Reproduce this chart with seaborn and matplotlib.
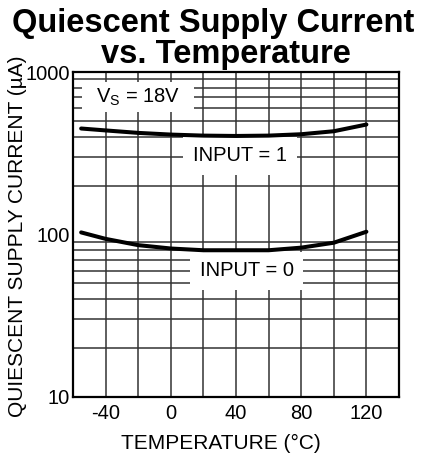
import matplotlib
matplotlib.use("Agg")
import matplotlib.pyplot as plt
import seaborn as sns
import pandas as pd
from matplotlib.patches import Rectangle

temperature = [-55, -40, -20, 0, 20, 40, 60, 80, 100, 120]
input1_current = [449, 437, 422, 412, 406, 404, 406, 414, 432, 475]
input0_current = [103, 94, 86, 82, 80, 80, 80, 83, 89, 104]
x_ticks = [-40, 0, 40, 80, 120]
y_ticks = [10, 100, 1000]

df = pd.concat([
    pd.DataFrame({"temp": temperature, "current": input1_current, "input": "1"}),
    pd.DataFrame({"temp": temperature, "current": input0_current, "input": "0"}),
])

sns.set_style("white")
plt.rcParams["font.family"] = ["Liberation Sans", "DejaVu Sans"]
plt.rcParams["mathtext.fontset"] = "custom"
plt.rcParams["mathtext.rm"] = "Liberation Sans"
plt.rcParams["text.color"] = "black"
plt.rcParams["axes.labelcolor"] = "black"

FS = 14.5
LFS = 15

fig = plt.figure(figsize=(4.25, 4.55), dpi=100)
ax = fig.add_axes([73 / 425, 58 / 455, 326 / 425, 325 / 455])

sns.lineplot(data=df, x="temp", y="current", hue="input", palette=["black", "black"],
             linewidth=2.9, legend=False, ax=ax, zorder=5)

ax.set_yscale("log")
ax.set_xlim(-60, 140)
ax.set_ylim(10, 1000)

# grid
for xv in range(-40, 140, 20):
    ax.axvline(xv, color="#333333", lw=1.1, zorder=1)
for dec in [10, 100]:
    for m in range(2, 10):
        ax.axhline(dec * m, color="#333333", lw=1.1, zorder=1)

ax.set_xticks(x_ticks)
ax.set_xticklabels([str(v) for v in x_ticks])
ax.set_yticks(y_ticks)
ax.set_yticklabels([str(v) for v in y_ticks])
ax.minorticks_off()
ax.tick_params(axis="both", length=0, labelsize=FS, colors="black")
ax.tick_params(axis="x", pad=5)
ax.tick_params(axis="y", pad=2)
for s in ax.spines.values():
    s.set_color("black")
    s.set_linewidth(1.6)
    s.set_zorder(6)

# label boxes
boxes = [(0.028, 0.877, 0.343, 0.092), (0.337, 0.683, 0.350, 0.117), (0.359, 0.329, 0.347, 0.117)]
for bx, by, bw, bh in boxes:
    ax.add_patch(Rectangle((bx, by), bw, bh, transform=ax.transAxes, facecolor="white",
                           edgecolor="none", zorder=3))
ax.text(0.199, 0.923, r"V$_{\mathrm{S}}$ = 18V", transform=ax.transAxes, ha="center", va="center",
        fontsize=FS, zorder=4, color="black")
ax.text(0.512, 0.742, "INPUT = 1", transform=ax.transAxes, ha="center", va="center",
        fontsize=FS, zorder=4, color="black")
ax.text(0.533, 0.388, "INPUT = 0", transform=ax.transAxes, ha="center", va="center",
        fontsize=FS, zorder=4, color="black")

ax.set_xlabel("TEMPERATURE (°C)", fontsize=LFS, color="black")
ax.set_ylabel("QUIESCENT SUPPLY CURRENT (µA)", fontsize=LFS, color="black")
ax.xaxis.set_label_coords(0.455, -0.115)
ax.yaxis.set_label_coords(-0.14, 0.494)

fig.text(213 / 425, 1 - 32 / 455, "Quiescent Supply Current", ha="center", va="baseline",
         fontsize=23.5, fontweight="bold", color="black")
fig.text(226 / 425, 1 - 63 / 455, "vs. Temperature", ha="center", va="baseline",
         fontsize=23.5, fontweight="bold", color="black")

fig.savefig("out.png", dpi=100)
